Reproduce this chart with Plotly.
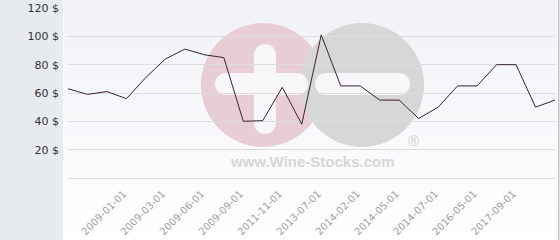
import plotly.graph_objects as go

# ---- data ----
prices = [63, 59, 61, 56, 71, 84, 91, 87, 85, 40, 40.5, 64, 38, 101,
          65, 65, 55, 55, 42, 50, 65, 65, 80, 80, 50, 55]
tick_positions = [3, 5, 7, 9, 11, 13, 15, 17, 19, 21, 23]
tick_labels = ["2009-01-01", "2009-03-01", "2009-06-01", "2009-09-01",
               "2011-11-01", "2013-07-01", "2014-02-01", "2014-05-01",
               "2014-07-01", "2016-05-01", "2017-09-01"]
y_ticks = [20, 40, 60, 80, 100, 120]
y_tick_labels = [f"{v} $" for v in y_ticks]

W, H = 560, 240
ML, MR, MT, MB = 68, 5, 8, 62
PW, PH = W - ML - MR, H - MT - MB


def px(x):
    return (x - ML) / PW


def py(y):
    return (H - MB - y) / PH


shapes = []


def rect(x0, y0, x1, y1, color, layer="below"):
    shapes.append(dict(type="rect", xref="paper", yref="paper",
                       x0=px(x0), x1=px(x1), y0=py(y1), y1=py(y0),
                       fillcolor=color, line=dict(width=0), layer=layer))


def circle(cx, cy, r, color):
    shapes.append(dict(type="circle", xref="paper", yref="paper",
                       x0=px(cx - r), x1=px(cx + r), y0=py(cy + r), y1=py(cy - r),
                       fillcolor=color, line=dict(width=0), layer="below"))


def hbar(x0, x1, y0, y1, color):
    r = (y1 - y0) / 2
    rect(x0 + r, y0, x1 - r, y1, color)
    circle(x0 + r, y0 + r, r, color)
    circle(x1 - r, y0 + r, r, color)


def vbar(x0, x1, y0, y1, color):
    r = (x1 - x0) / 2
    rect(x0, y0 + r, x1, y1 - r, color)
    circle(x0 + r, y0 + r, r, color)
    circle(x0 + r, y1 - r, r, color)


# left panel
rect(0, 0, 63, H, "#e7eaee")
# gradient background of plot region
nb = 24
for i in range(nb):
    t = i / (nb - 1)
    c = tuple(int(round(a + (255 - a) * t)) for a in (241, 242, 248))
    rect(64, i * H / nb, 557.5, (i + 1) * H / nb + 0.5, "rgb(%d,%d,%d)" % c)
# right border
rect(558, 0, 559.5, H, "#c4c4c4")

# watermark logo
circle(263, 85, 62, "#e9cdd5")
circle(362, 85, 62, "#d7d7d7")
vbar(254, 276, 44, 134, "#f7f7fa")
hbar(215, 308, 73, 95, "#f7f7fa")
hbar(315, 410, 73, 95, "#f7f7fa")

annotations = [
    dict(text="<b>www.Wine-Stocks.com</b>", x=px(312), y=py(161), xref="paper", yref="paper",
         showarrow=False, font=dict(family="Liberation Sans", size=15, color="#d6d6d6"),
         xanchor="center", yanchor="middle"),
    dict(text="®", x=px(413), y=py(140), xref="paper", yref="paper",
         showarrow=False, font=dict(family="Liberation Sans", size=15, color="#d0d0d0"),
         xanchor="center", yanchor="middle"),
]

fig = go.Figure()
fig.add_trace(go.Scatter(x=list(range(len(prices))), y=prices, mode="lines",
                         line=dict(color="#3a2030", width=1), hoverinfo="skip"))

fig.update_layout(
    width=W, height=H, autosize=False,
    margin=dict(l=ML, r=MR, t=MT, b=MB, pad=0),
    paper_bgcolor="white", plot_bgcolor="rgba(0,0,0,0)",
    showlegend=False, shapes=shapes, annotations=annotations,
    font=dict(family="DejaVu Sans"),
    xaxis=dict(range=[0, len(prices) - 1], tickvals=tick_positions, ticktext=tick_labels,
               tickangle=-45, showgrid=False, zeroline=False, showline=False,
               automargin=False, ticks="", ticklabelstandoff=7, ticklabelshift=-3,
               tickfont=dict(size=10, color="#a0a0a0")),
    yaxis=dict(range=[0, 120], tickvals=y_ticks, ticktext=y_tick_labels,
               showgrid=True, gridcolor="#dddddd", gridwidth=1,
               zeroline=True, zerolinecolor="#dddddd", zerolinewidth=1,
               showline=False, automargin=False, ticks="", ticklabelstandoff=8,
               tickfont=dict(size=11, color="#333333")),
)

fig.write_html("out.html")
